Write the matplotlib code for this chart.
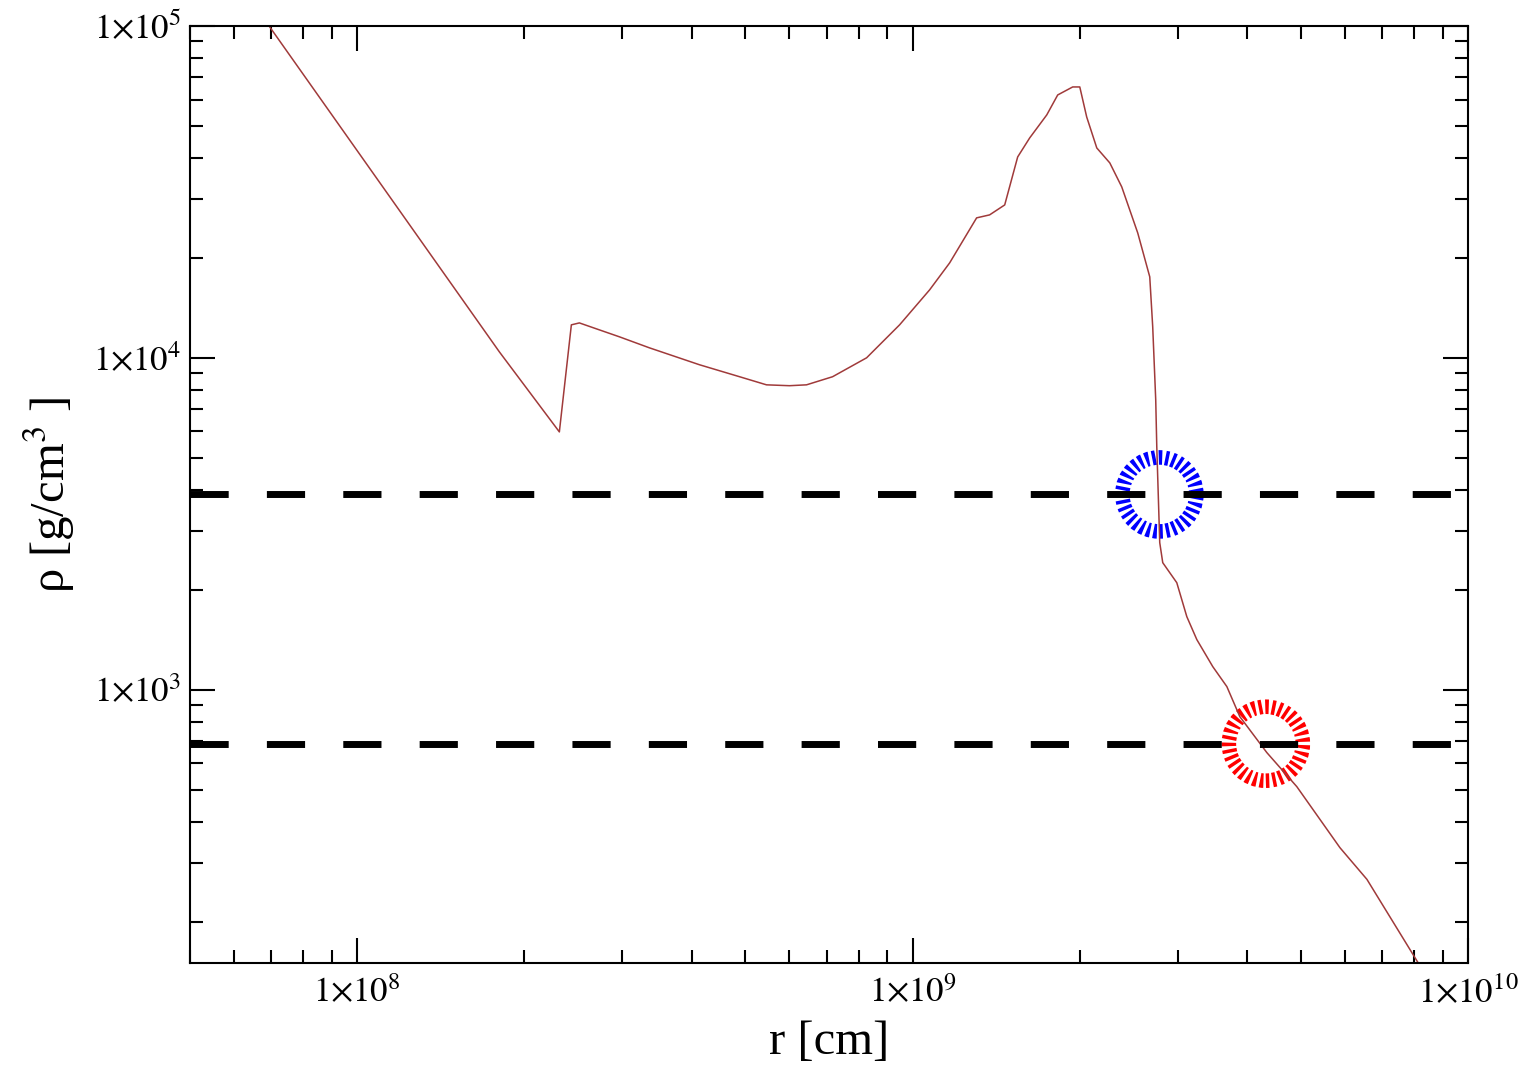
import math
import matplotlib
matplotlib.use("Agg")
import matplotlib.pyplot as plt
from matplotlib.patches import Circle
from matplotlib.transforms import ScaledTranslation
from matplotlib.ticker import LogLocator, FuncFormatter, NullFormatter

plt.rcParams["font.family"] = ["Liberation Serif", "DejaVu Serif"]
plt.rcParams["mathtext.fontset"] = "stix"
plt.rcParams["lines.scale_dashes"] = False

# density profile
r_cm = [6.39e7, 6.94e7, 1.803e8, 2.312e8, 2.43e8, 2.512e8, 2.729e8, 2.965e8,
        3.357e8, 4.133e8, 4.88e8, 5.457e8, 6.003e8, 6.442e8, 7.177e8, 8.264e8,
        9.475e8, 1.073e9, 1.166e9, 1.304e9, 1.376e9, 1.465e9, 1.546e9, 1.625e9,
        1.744e9, 1.825e9, 1.942e9, 2.0e9, 2.058e9, 2.146e9, 2.265e9, 2.38e9,
        2.543e9, 2.673e9, 2.706e9, 2.74e9, 2.752e9, 2.786e9, 2.821e9, 2.99e9,
        3.117e9, 3.249e9, 3.471e9, 3.68e9, 3.883e9, 4.343e9, 4.918e9, 5.88e9,
        6.577e9, 8.126e9, 8.54e9]
rho = [1.19e5, 1.0e5, 1.042e4, 5.98e3, 1.257e4, 1.274e4, 1.214e4, 1.157e4,
       1.072e4, 9.53e3, 8.77e3, 8.29e3, 8.24e3, 8.29e3, 8.77e3, 1.0e4,
       1.257e4, 1.602e4, 1.932e4, 2.641e4, 2.696e4, 2.889e4, 4.031e4, 4.6e4,
       5.395e4, 6.197e4, 6.551e4, 6.551e4, 5.32e4, 4.29e4, 3.867e4, 3.274e4,
       2.379e4, 1.754e4, 1.24e4, 7.47e3, 5.395e3, 2.773e3, 2.413e3, 2.1e3,
       1.659e3, 1.415e3, 1.173e3, 1.021e3, 829, 646, 510, 334,
       268, 150.5, 133]

# horizontal density levels and marked crossings
levels = [3875, 687]
mark_r = [2.781e9, 4.325e9]
mark_rho = [3875, 687]
mark_colors = ["#0000ff", "#ff0000"]

fig = plt.figure(figsize=(15.24, 10.76), dpi=100)
ax = fig.add_axes([190 / 1524, 113 / 1076, 1278 / 1524, 937 / 1076])

ax.plot(r_cm, rho, color="#a03a3a", lw=1.1)
for lev in levels:
    ax.axhline(lev, color="black", lw=5, linestyle=(0, (27.5, 27.5)))

ax.set_xscale("log")
ax.set_yscale("log")
ax.set_xlim(5e7, 1e10)
ax.set_ylim(150, 1e5)

for xc, yc, col in zip(mark_r, mark_rho, mark_colors):
    circ = Circle((0, 0), 0.37, fill=False, edgecolor=col, lw=10.5,
                  linestyle=(0, (2.5, 2.3)),
                  transform=fig.dpi_scale_trans + ScaledTranslation(xc, yc, ax.transData))
    ax.add_patch(circ)

fmt = FuncFormatter(lambda v, p: r"$1{\times}10^{%d}$" % round(math.log10(v)))
for axis in (ax.xaxis, ax.yaxis):
    axis.set_major_locator(LogLocator(base=10, numticks=20))
    axis.set_minor_locator(LogLocator(base=10, subs=range(2, 10), numticks=20))
    axis.set_major_formatter(fmt)
    axis.set_minor_formatter(NullFormatter())

ax.tick_params(which="both", direction="in", top=True, right=True, width=1.5, labelsize=25)
ax.tick_params(which="major", length=18)
ax.tick_params(which="minor", length=9.5)
ax.tick_params(axis="x", pad=10)
ax.tick_params(axis="y", pad=6)
for s in ax.spines.values():
    s.set_linewidth(1.5)

ax.set_xlabel("r [cm]", fontsize=35, labelpad=6)
ax.set_ylabel("ρ [g/cm$^{3}$ ]", fontsize=35, labelpad=12)

plt.savefig("out.png", dpi=100)
